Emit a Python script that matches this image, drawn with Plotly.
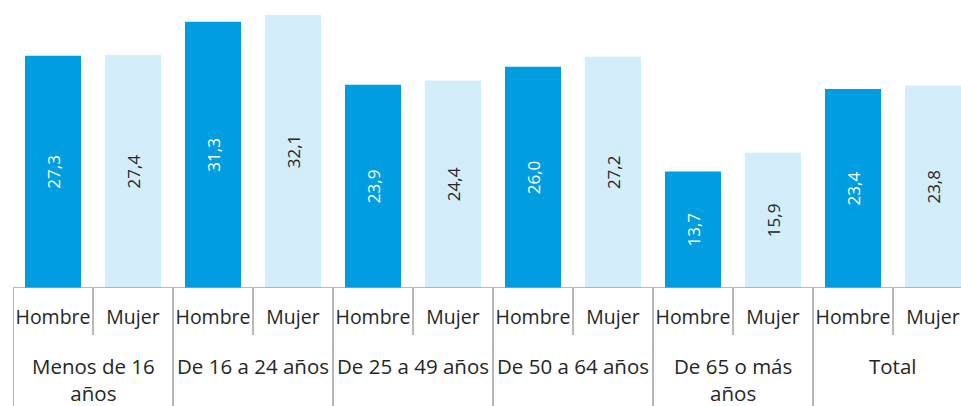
import plotly.graph_objects as go

groups = ["Menos de 16<br>años", "De 16 a 24 años", "De 25 a 49 años",
          "De 50 a 64 años", "De 65 o más<br>años", "Total"]
sexes = ["Hombre", "Mujer"]
hombre = [27.3, 31.3, 23.9, 26.0, 13.7, 23.4]
mujer = [27.4, 32.1, 24.4, 27.2, 15.9, 23.8]

dark = "#009EE0"
light = "#D3EDFA"
line_col = "#A0A0A0"
txt_col = "#262626"
font_fam = "Open Sans"

n = len(groups)
xh = [2 * i for i in range(n)]
xm = [2 * i + 1 for i in range(n)]

fig = go.Figure()
fig.add_trace(go.Bar(x=xh, y=hombre, width=0.7, marker=dict(color=dark, line=dict(width=0)),
                     texttemplate="%{y:.1f}", textposition="inside", insidetextanchor="middle",
                     textangle=-90, textfont=dict(color="white", size=17, family=font_fam),
                     name="Hombre"))
fig.add_trace(go.Bar(x=xm, y=mujer, width=0.7, marker=dict(color=light, line=dict(width=0)),
                     texttemplate="%{y:.1f}", textposition="inside", insidetextanchor="middle",
                     textangle=-90, textfont=dict(color=txt_col, size=17, family=font_fam),
                     name="Mujer"))

plot_h = 288
def py(px_below):
    return -px_below / plot_h

shapes = []
shapes.append(dict(type="line", xref="paper", yref="y", x0=0, x1=1, y0=0, y1=0,
                   line=dict(color=line_col, width=1.5)))
for i in range(n + 1):
    xv = 2 * i - 0.5
    shapes.append(dict(type="line", xref="x", yref="paper", x0=xv, x1=xv,
                       y0=0, y1=py(125), line=dict(color=line_col, width=1.5)))
for i in range(n):
    xv = 2 * i + 0.5
    shapes.append(dict(type="line", xref="x", yref="paper", x0=xv, x1=xv,
                       y0=0, y1=py(47), line=dict(color=line_col, width=1.5)))

annotations = []
for i, g in enumerate(groups):
    annotations.append(dict(x=2 * i + 0.5, xref="x", y=py(62), yref="paper",
                            text=g, showarrow=False, xanchor="center", yanchor="top",
                            font=dict(size=20.5, color=txt_col, family=font_fam)))

tickvals = xh + xm
ticktext = [sexes[0]] * n + [sexes[1]] * n

fig.update_layout(
    width=961, height=406,
    margin=dict(l=13, r=0, t=0, b=118),
    plot_bgcolor="white", paper_bgcolor="white",
    separators=",.",
    barmode="overlay",
    showlegend=False,
    hovermode=False,
    shapes=shapes,
    annotations=annotations,
    xaxis=dict(range=[-0.5, 11.35], tickvals=tickvals, ticktext=ticktext,
               showgrid=False, zeroline=False, showline=False,
               ticks="outside", ticklen=12, tickcolor="rgba(0,0,0,0)",
               ticklabeloverflow="allow",
               tickfont=dict(size=19.5, color=txt_col, family=font_fam)),
    yaxis=dict(range=[0, 288 / 8.505], visible=False, showgrid=False, zeroline=False),
)

fig.write_html("out.html",
               config={"displayModeBar": False},
               post_script="document.body.style.margin='0px';document.body.style.overflow='hidden';")
